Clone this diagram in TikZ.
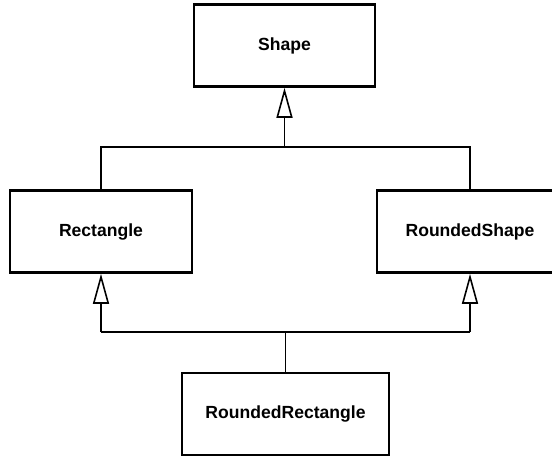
\documentclass[tikz,border=0pt]{standalone}
\usepackage{fontspec}
\setmainfont{Liberation Sans}
\usetikzlibrary{arrows.meta}

\tikzset{
  classbox/.style={draw, line width=1.5pt, minimum height=1.64cm, font=\bfseries\fontsize{10}{12}\selectfont},
  link/.style={line width=0.9pt},
  inherit/.style={link, -{Triangle[open, length=0.6cm, width=0.32cm, line width=0.9pt]}}
}

\begin{document}
\begin{tikzpicture}
        % Fix the page size
        \useasboundingbox (0,0) rectangle (11.04,9.14);

        % Draw the classes
        \node[classbox, minimum width=3.62cm] (shape) at (5.69,8.23) {Shape};
        \node[classbox, minimum width=3.64cm] (rect) at (2.02,4.51) {Rectangle};
        \node[classbox, minimum width=3.72cm] (rshape) at (9.40,4.51) {RoundedShape};
        \node[classbox, minimum width=4.14cm] (rrect) at (5.71,0.86) {RoundedRectangle};

        % Coordinates of the bars
        \coordinate (top) at (5.69,6.2);
        \coordinate (topL) at (rect.north |- top);
        \coordinate (topR) at (rshape.north |- top);
        \coordinate (bot) at (rrect.north |- 0,2.5);
        \coordinate (botL) at (rect.south |- bot);
        \coordinate (botR) at (rshape.south |- bot);

        % Upper level
        \draw[link] (rect.north) -- (topL) -- (topR) -- (rshape.north);
        \draw[inherit] (top) -- (shape.south);

        % Lower level
        \draw[link] (rrect.north) -- (bot);
        \draw[link] (botL) -- (botR);
        \draw[inherit] (botL) -- (rect.south);
        \draw[inherit] (botR) -- (rshape.south);
    \end{tikzpicture}
\end{document}
